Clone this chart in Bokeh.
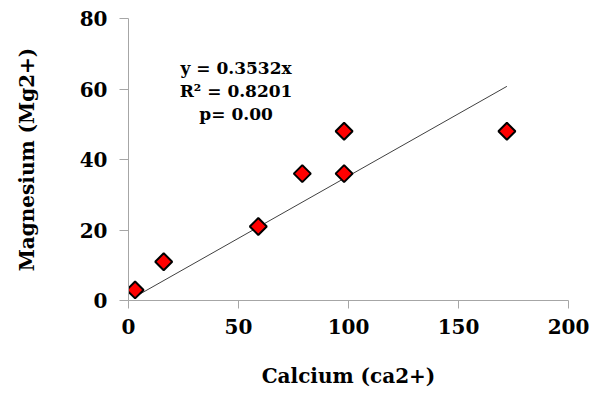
import numpy as np
from bokeh.plotting import figure
from bokeh.models import Range1d, FixedTicker, ColumnDataSource
from bokeh.core.properties import value
from bokeh.embed import file_html
from bokeh.resources import INLINE

# Data
calcium = [3, 16, 59, 79, 98, 98, 172]
magnesium = [3, 11, 21, 36, 36, 48, 48]
x_ticks = [0, 50, 100, 150, 200]
y_ticks = [0, 20, 40, 60, 80]
slope = 0.3532
annotation = ["y = 0.3532x", "R\u00b2 = 0.8201", "p= 0.00"]
ann_x = [48.9, 48.9, 48.9]
ann_y = [66.0, 59.4, 52.9]

FONT = "DejaVu Serif"
AXIS_COLOR = "#a6a6a6"

p = figure(width=594, height=392, output_backend="svg", toolbar_location=None,
           x_range=Range1d(0, 200), y_range=Range1d(0, 80),
           min_border_left=128, min_border_right=26, min_border_top=18,
           min_border_bottom=92)
p.outline_line_color = None
p.xgrid.visible = False
p.ygrid.visible = False
p.background_fill_color = "white"
p.border_fill_color = "white"

for ax, ticks in ((p.xaxis, x_ticks), (p.yaxis, y_ticks)):
    ax.ticker = FixedTicker(ticks=ticks)
    ax.axis_line_color = AXIS_COLOR
    ax.major_tick_line_color = AXIS_COLOR
    ax.minor_tick_line_color = None
    ax.major_tick_in = 0
    ax.major_label_text_font = FONT
    ax.major_label_text_font_style = "bold"
    ax.major_label_text_font_size = "20px"
    ax.major_label_text_color = "black"
    ax.axis_label_text_font = FONT
    ax.axis_label_text_font_style = "bold"
    ax.axis_label_text_font_size = "20px"
    ax.axis_label_text_color = "black"

p.xaxis.major_tick_out = 8
p.yaxis.major_tick_out = 9
p.xaxis.major_label_standoff = 10
p.yaxis.major_label_standoff = 12
p.xaxis.axis_label = "Calcium (ca2+)"
p.yaxis.axis_label = "Magnesium (Mg2+)"
p.xaxis.axis_label_standoff = 27
p.yaxis.axis_label_standoff = 38

# Trend line through origin
xl = [min(calcium), max(calcium)]
yl = [slope * v for v in xl]
p.line(xl, yl, line_color="#404040", line_width=1)

src = ColumnDataSource(dict(x=calcium, y=magnesium))
p.scatter("x", "y", source=src, marker="square", size=12, angle=np.pi / 4,
          fill_color="#ff0000", line_color="black", line_width=2)

p.text(x=ann_x, y=ann_y, text=annotation, text_align="center",
       text_baseline="middle", text_font=value(FONT), text_font_style="bold",
       text_font_size="17px", text_color="black")

open("out.html", "w").write(file_html(p, INLINE))
